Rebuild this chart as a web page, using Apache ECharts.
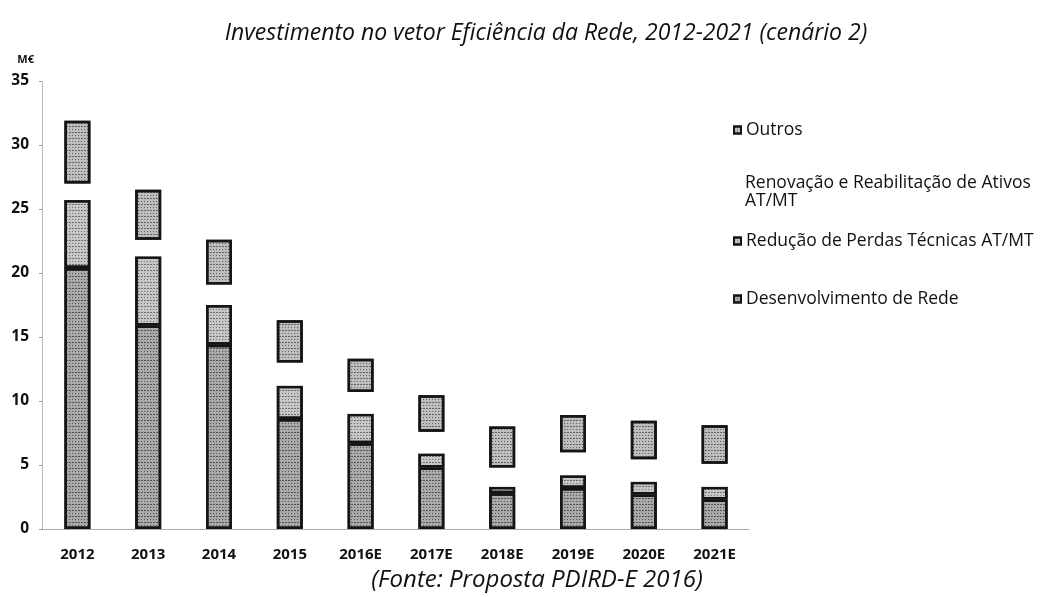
<!DOCTYPE html>
<html>
<head>
<meta charset="utf-8">
<script src="https://cdn.jsdelivr.net/npm/echarts@6/dist/echarts.min.js"></script>
<style>
  html, body { margin: 0; padding: 0; background: #fff; }
  #chart { width: 1040px; height: 597px; }
</style>
</head>
<body>
<div id="chart"></div>
<script>
// Investment in the network-efficiency vector, M€, stacked by programme
const categories = ['2012', '2013', '2014', '2015', '2016E', '2017E', '2018E', '2019E', '2020E', '2021E'];
const desenvolvimento = [20.4, 15.9, 14.4, 8.6, 6.7, 4.8, 2.8, 3.2, 2.7, 2.3];
const reducao = [5.3, 5.4, 3.1, 2.6, 2.3, 1.1, 0.5, 1.0, 1.0, 1.0];
const renovacao = [1.3, 1.3, 1.6, 1.8, 1.7, 1.7, 1.5, 1.8, 1.75, 1.8];
const outros = [4.9, 3.9, 3.5, 3.3, 2.6, 2.85, 3.2, 2.9, 3.0, 3.0];
const yTicks = [0, 5, 10, 15, 20, 25, 30, 35];

const seriesNames = {
  des: 'Desenvolvimento de Rede',
  red: 'Redução de Perdas Técnicas AT/MT',
  ren: 'Renovação e Reabilitação de Ativos\nAT/MT',
  out: 'Outros'
};

const FONT = 'Open Sans';

// stippled grey fill for the printed bars
function stipple(color, dot) {
  return {
    color: color,
    borderColor: '#151515',
    borderWidth: 2.5,
    decal: {
      symbol: 'rect',
      symbolSize: 1,
      color: dot,
      dashArrayX: [[1, 2], [2, 1]],
      dashArrayY: [1, 2],
      rotation: 0
    }
  };
}

const chart = echarts.init(document.getElementById('chart'), null, { renderer: 'canvas' });

function legendAt(name, top) {
  return {
    data: [name],
    left: 728,
    top: top,
    orient: 'vertical',
    itemWidth: 7,
    itemHeight: 7,
    itemGap: 0,
    icon: 'rect',
    selectedMode: false,
    textStyle: { fontFamily: FONT, fontSize: 17.5, color: '#111', lineHeight: 18, padding: [0, 0, 0, 0] }
  };
}

chart.setOption({
  animation: false,
  backgroundColor: '#ffffff',
  title: [
    {
      text: 'Investimento no vetor Eficiência da Rede, 2012-2021 (cenário 2)',
      left: 541,
      textAlign: 'center',
      top: 17,
      textStyle: { fontFamily: FONT, fontStyle: 'italic', fontWeight: 'normal', fontSize: 23, color: '#111' }
    },
    {
      text: '(Fonte: Proposta PDIRD-E 2016)',
      left: 532,
      textAlign: 'center',
      top: 563,
      textStyle: { fontFamily: FONT, fontStyle: 'italic', fontWeight: 'normal', fontSize: 24, color: '#111' }
    }
  ],
  legend: [
    legendAt(seriesNames.out, 116),
    legendAt(seriesNames.ren, 169),
    legendAt(seriesNames.red, 227),
    legendAt(seriesNames.des, 285)
  ],
  grid: { left: 42, width: 708, top: 81, height: 448, containLabel: false },
  xAxis: {
    type: 'category',
    data: categories,
    axisLine: { show: true, lineStyle: { color: '#9a9a9a', type: 'dotted', width: 1 } },
    axisTick: { show: false },
    axisLabel: { fontFamily: FONT, fontWeight: 'bold', fontSize: 15, color: '#111', margin: 18 }
  },
  yAxis: {
    type: 'value',
    min: yTicks[0],
    max: yTicks[yTicks.length - 1],
    interval: 5,
    name: 'M€',
    nameLocation: 'end',
    nameGap: 16,
    nameTextStyle: { fontFamily: FONT, fontWeight: 'bold', fontSize: 11, color: '#111', align: 'right', padding: [0, 8, 0, 0] },
    axisLine: { show: true, lineStyle: { color: '#aaa', type: 'dotted', width: 1 } },
    axisTick: { show: true, length: 3, lineStyle: { color: '#999' } },
    splitLine: { show: false },
    axisLabel: { fontFamily: FONT, fontWeight: 'bold', fontSize: 15.5, color: '#111', margin: 13 }
  },
  series: [
    {
      name: seriesNames.des, type: 'bar', stack: 'total', barWidth: 26,
      data: desenvolvimento, itemStyle: stipple('#a9a9a9', 'rgba(25,25,25,0.6)')
    },
    {
      name: seriesNames.red, type: 'bar', stack: 'total', barWidth: 26,
      data: reducao, itemStyle: stipple('#c6c6c6', 'rgba(25,25,25,0.5)')
    },
    {
      name: seriesNames.ren, type: 'bar', stack: 'total', barWidth: 26,
      data: renovacao, itemStyle: { color: '#ffffff', borderWidth: 0 }
    },
    {
      name: seriesNames.out, type: 'bar', stack: 'total', barWidth: 26,
      data: outros, itemStyle: stipple('#bdbdbd', 'rgba(25,25,25,0.55)')
    }
  ]
});
</script>
</body>
</html>
